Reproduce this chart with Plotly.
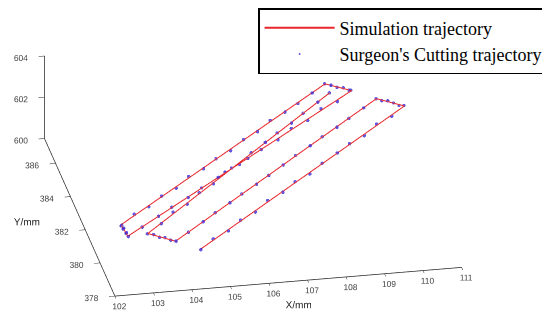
import plotly.graph_objects as go

# Simulation trajectory corner points (mm); None separates the two cutting passes
sim_x = [102.55, 109.23, 109.82, 102.59, 102.55, None, 109.25, 103.12, 103.73, 110.35, 110.97, 104.26]
sim_y = [380.02, 387.23, 386.71, 379.32, 380.02, None, 386.69, 379.38, 378.80, 386.12, 385.56, 378.21]
sim_z = [601.75, 601.75, 601.75, 601.75, 601.75, None, 601.75, 601.75, 601.75, 601.75, 601.75, 601.75]

# Surgeon's recorded cutting points (mm)
cut_x = [
    102.56, 102.99, 103.45, 103.88, 104.35, 104.77, 105.24, 105.66, 106.13, 106.56, 107.01, 107.44, 107.91, 108.34, 108.80, 109.22,
    109.36, 109.50, 109.63, 109.76,
    109.80, 109.35, 108.84, 108.39, 107.88, 107.43, 106.91, 106.46, 105.95, 105.50, 104.98, 104.53, 104.02, 103.57, 103.06, 102.60,
    102.57, 102.60, 102.54, 102.58, 102.53,
    109.24, 108.83, 108.36, 107.95, 107.49, 107.07, 106.61, 106.20, 105.73, 105.32, 104.86, 104.44, 103.98, 103.57, 103.11,
    103.25, 103.38, 103.50, 103.62,
    103.74, 104.16, 104.63, 105.04, 105.51, 105.92, 106.39, 106.81, 107.27, 107.69, 108.16, 108.57, 109.04, 109.45, 109.92, 110.34,
    110.47, 110.60, 110.73, 110.85, 110.96,
    110.54, 110.06, 109.64, 109.17, 108.75, 108.27, 107.85, 107.38, 106.96, 106.48, 106.06, 105.59, 105.17, 104.69, 104.27,
]
cut_y = [
    380.00, 380.52, 380.97, 381.47, 381.93, 382.44, 382.89, 383.39, 383.86, 384.35, 384.80, 385.32, 385.78, 386.27, 386.73, 387.25,
    387.10, 387.01, 386.87, 386.76,
    386.73, 386.19, 385.75, 385.21, 384.76, 384.22, 383.78, 383.24, 382.79, 382.25, 381.81, 381.27, 380.82, 380.28, 379.83, 379.30,
    379.45, 379.58, 379.70, 379.83, 379.93,
    386.70, 386.15, 385.67, 385.10, 384.63, 384.06, 383.58, 383.02, 382.54, 381.97, 381.49, 380.93, 380.45, 379.89, 379.39,
    379.27, 379.14, 379.03, 378.90,
    378.79, 379.31, 379.76, 380.28, 380.73, 381.26, 381.71, 382.24, 382.69, 383.21, 383.66, 384.19, 384.64, 385.16, 385.61, 386.13,
    386.02, 385.90, 385.79, 385.67, 385.57,
    385.05, 384.60, 384.07, 383.62, 383.09, 382.64, 382.11, 381.66, 381.13, 380.68, 380.15, 379.70, 379.17, 378.72, 378.20,
]
cut_z = [
    601.74, 601.79, 601.72, 601.77, 601.71, 601.80, 601.74, 601.76, 601.70, 601.78, 601.73, 601.79, 601.75, 601.71, 601.78, 601.74,
    601.77, 601.72, 601.79, 601.74,
    601.76, 601.71, 601.79, 601.73, 601.78, 601.74, 601.70, 601.77, 601.75, 601.80, 601.72, 601.76, 601.73, 601.79, 601.71, 601.75,
    601.78, 601.72, 601.80, 601.73, 601.77,
    601.74, 601.79, 601.71, 601.76, 601.73, 601.80, 601.75, 601.70, 601.78, 601.74, 601.77, 601.72, 601.79, 601.75, 601.73,
    601.77, 601.72, 601.78, 601.74,
    601.76, 601.71, 601.78, 601.74, 601.79, 601.72, 601.76, 601.70, 601.77, 601.75, 601.79, 601.73, 601.76, 601.71, 601.78, 601.74,
    601.72, 601.79, 601.75, 601.71, 601.77,
    601.73, 601.78, 601.72, 601.76, 601.80, 601.74, 601.71, 601.77, 601.75, 601.79, 601.72, 601.76, 601.73, 601.78, 601.74,
]

x_ticks = [102, 103, 104, 105, 106, 107, 108, 109, 110, 111]
y_ticks = [378, 380, 382, 384, 386]
z_ticks = [600, 602, 604]

# camera: look-at point plus viewing direction
cam_center = dict(x=0.0063, y=0.0, z=-0.0312)
view_dir = dict(x=-0.341, y=-1.773, z=0.861)
cam_eye = {k: cam_center[k] + view_dir[k] for k in cam_center}

fig = go.Figure()
fig.add_trace(go.Scatter3d(
    x=sim_x, y=sim_y, z=sim_z, mode="lines", name="Simulation trajectory",
    line=dict(color="#e8262b", width=2), connectgaps=False,
))
fig.add_trace(go.Scatter3d(
    x=cut_x, y=cut_y, z=cut_z, mode="markers", name="Surgeon's Cutting trajectory",
    marker=dict(color="#3b2bd8", size=2, opacity=0.8, line=dict(width=0)),
))

axis_common = dict(
    showbackground=False, showgrid=False, zeroline=False, showspikes=False,
    showline=True, linecolor="#262626", linewidth=1.5,
    ticks="outside", tickcolor="#262626", tickangle=0,
    tickfont=dict(family="Liberation Sans, Arial", size=10, color="#404040"),
)

fig.update_layout(
    width=550, height=321,
    margin=dict(l=0, r=0, t=0, b=0),
    paper_bgcolor="white",
    font=dict(family="Liberation Sans, Arial", color="#262626"),
    scene=dict(
        domain=dict(x=[0.0, 0.894], y=[0.024, 1.0]),
        xaxis=dict(range=[102, 111], tickvals=x_ticks, ticklen=6,
                   title=dict(text="X/mm", font=dict(size=10)), **axis_common),
        yaxis=dict(range=[378, 387.5], tickvals=y_ticks, ticklen=6,
                   title=dict(text="Y/mm", font=dict(size=10)), **axis_common),
        zaxis=dict(range=[600, 604], tickvals=z_ticks, ticklen=2,
                   title=dict(text="Z/mm", font=dict(size=10)), **axis_common),
        aspectmode="manual",
        aspectratio=dict(x=2.278, y=2.405, z=0.590),
        camera=dict(
            projection=dict(type="orthographic"),
            eye=cam_eye,
            up=dict(x=0, y=0, z=1),
            center=cam_center,
        ),
    ),
    legend=dict(
        x=0.982, y=1.01, xanchor="right", yanchor="top",
        bgcolor="white", bordercolor="#000000", borderwidth=1.5,
        font=dict(family="Liberation Serif, Times New Roman", size=18, color="#000000"),
        itemwidth=70, tracegroupgap=0, itemsizing="trace",
    ),
)

fig.write_html("out.html")
